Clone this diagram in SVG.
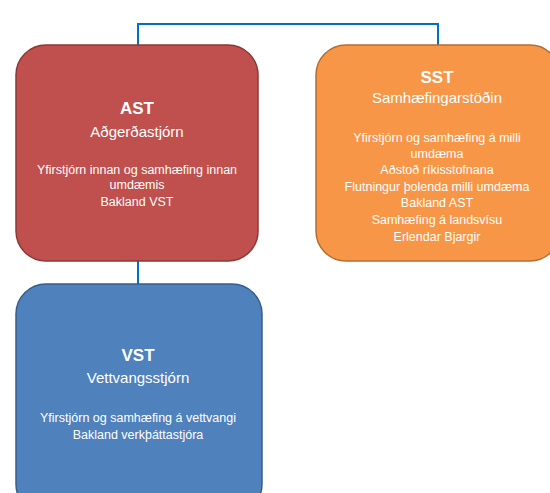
<svg xmlns="http://www.w3.org/2000/svg" width="550" height="493" viewBox="0 0 550 493">
  <style>
    .box { stroke-width: 1.5; }
    .ast { fill: #c0504d; stroke: #8c3836; }
    .sst { fill: #f79646; stroke: #b66d31; }
    .vst { fill: #4f81bd; stroke: #385d8a; }
    text { fill: #ffffff; font-family: "Liberation Sans", Arial, sans-serif; text-anchor: middle; }
    .t { font-size: 17px; font-weight: bold; }
    .s { font-size: 15px; }
    .b { font-size: 12.5px; }
    .link { fill: none; stroke: #0070c0; stroke-width: 2; }
  </style>
  <rect width="550" height="493" fill="#ffffff"/>

  <g id="connectors">
    <path class="link" d="M138,46 V24 H438 V45"/>
    <path class="link" d="M138,261 V284"/>
  </g>

  <g id="ast">
    <rect class="box ast" x="16" y="45" width="242" height="216" rx="30"/>
    <text class="t" x="137" y="114">AST</text>
    <text class="s" x="137" y="137">Aðgerðastjórn</text>
    <text class="b" x="137" y="174">Yfirstjórn innan og samhæfing innan</text>
    <text class="b" x="137" y="189">umdæmis</text>
    <text class="b" x="137" y="206">Bakland VST</text>
  </g>

  <g id="sst">
    <rect class="box sst" x="316" y="45" width="244" height="216" rx="30"/>
    <text class="t" x="437" y="83">SST</text>
    <text class="s" x="437" y="103">Samhæfingarstöðin</text>
    <text class="b" x="437" y="142">Yfirstjórn og samhæfing á milli</text>
    <text class="b" x="437" y="158">umdæma</text>
    <text class="b" x="437" y="174">Aðstoð ríkisstofnana</text>
    <text class="b" x="437" y="191">Flutningur þolenda milli umdæma</text>
    <text class="b" x="437" y="207">Bakland AST</text>
    <text class="b" x="437" y="224">Samhæfing á landsvísu</text>
    <text class="b" x="437" y="241">Erlendar Bjargir</text>
  </g>

  <g id="vst">
    <rect class="box vst" x="16" y="284" width="246" height="230" rx="30"/>
    <text class="t" x="138" y="361">VST</text>
    <text class="s" x="138" y="383">Vettvangsstjórn</text>
    <text class="b" x="138" y="422">Yfirstjórn og samhæfing á vettvangi</text>
    <text class="b" x="138" y="439">Bakland verkþáttastjóra</text>
  </g>
</svg>
